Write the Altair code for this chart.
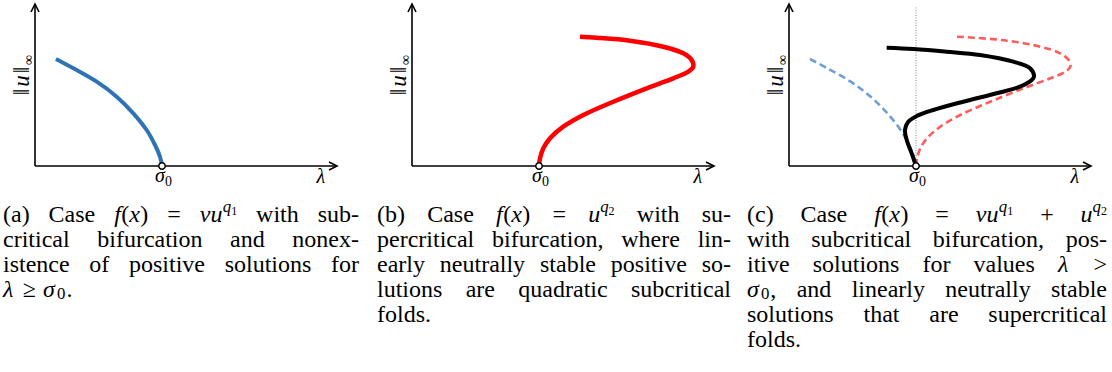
import altair as alt
import pandas as pd

# ---------------------------------------------------------------- curve data
# lambda (in units of sigma_0) and ||u||_inf along each solution branch
sub_lam = [0.165, 0.302, 0.486, 0.643, 0.774, 0.879, 0.945, 0.984, 1.0]
sub_u = [1.07, 0.977, 0.843, 0.693, 0.527, 0.36, 0.21, 0.093, 0.0]

sup_lam = [1.0, 1.008, 1.034, 1.087, 1.191, 1.349, 1.585, 1.848, 2.057,
           2.176, 2.215, 2.202, 2.136, 1.979, 1.717, 1.454, 1.323]
sup_u = [0.0, 0.077, 0.177, 0.277, 0.393, 0.51, 0.643, 0.777, 0.877,
         0.943, 0.993, 1.06, 1.127, 1.193, 1.253, 1.283, 1.293]

mix_lam = [1.0, 0.966, 0.927, 0.913, 0.939, 1.006, 1.136, 1.372, 1.635,
           1.819, 1.911, 1.929, 1.898, 1.766, 1.504, 1.242, 0.979, 0.769]
mix_u = [0.0, 0.127, 0.26, 0.36, 0.443, 0.50, 0.56, 0.643, 0.727,
         0.793, 0.86, 0.893, 0.977, 1.043, 1.11, 1.143, 1.17, 1.183]

SIGMA0 = 1.0
LAM_LABEL = 2.25

# ---------------------------------------------------------------- captions
# {..} italic math, ^qN superscript q with subscript N, _N subscript
CAPTIONS = [
    ["(a) Case {f}({x}) = {νu}^q1 with sub-",
     "critical bifurcation and nonex-",
     "istence of positive solutions for",
     "{λ} ≥ {σ}_0."],
    ["(b) Case {f}({x}) = {u}^q2 with su-",
     "percritical bifurcation, where lin-",
     "early neutrally stable positive so-",
     "lutions are quadratic subcritical",
     "folds."],
    ["(c) Case {f}({x}) = {νu}^q1 + {u}^q2",
     "with subcritical bifurcation, pos-",
     "itive solutions for values {λ} >",
     "{σ}_0, and linearly neutrally stable",
     "solutions that are supercritical",
     "folds."],
]

# ---------------------------------------------------------------- geometry
X0 = [35, 412, 789]          # pixel position of each panel's vertical axis
Y0 = 166                     # pixel position of the horizontal axes
LAM_PX = 127                 # pixels per unit of lambda
U_PX = 100                   # pixels per unit of ||u||
LAM_MAX = 2.378
U_MAX = 1.62

CAP_LEFT = [3, 377, 747]
CAP_RIGHT = [359, 731, 1107]
CAP_BASE = [222, 247, 272, 297, 322, 347]
CAP_FS = 24
SERIF = "Liberation Serif, Times New Roman, serif"


def xy(i, xf="lam", yf="u"):
    return dict(
        x=alt.X(f"{xf}:Q", axis=None,
                scale=alt.Scale(domain=[0, LAM_MAX], nice=False, zero=False,
                                range=[X0[i], X0[i] + LAM_MAX * LAM_PX])),
        y=alt.Y(f"{yf}:Q", axis=None,
                scale=alt.Scale(domain=[0, U_MAX], nice=False, zero=False,
                                range=[Y0, Y0 - U_MAX * U_PX])),
    )


def curve(i, lam, u, color, width, dash=None):
    df = pd.DataFrame({"lam": lam, "u": u, "k": range(len(lam))})
    kw = dict(interpolate="catmull-rom", color=color, strokeWidth=width,
              strokeCap="butt", strokeJoin="round")
    if dash:
        kw["strokeDash"] = dash
    return alt.Chart(df).mark_line(**kw).encode(order="k:Q", **xy(i))


def axes(i):
    seg = pd.DataFrame({"lam": [0, 0], "u": [0, 0],
                        "lam2": [LAM_MAX, 0], "u2": [0, U_MAX]})
    rule = alt.Chart(seg).mark_rule(color="black", strokeWidth=1.6).encode(
        x2="lam2:Q", y2="u2:Q", **xy(i))
    xa = alt.Chart(pd.DataFrame({"lam": [LAM_MAX], "u": [0]})).mark_point(
        shape="M-1,-0.5L0,0L-1,0.5", size=256, filled=False, stroke="black",
        strokeWidth=1.6, opacity=1).encode(**xy(i))
    ya = alt.Chart(pd.DataFrame({"lam": [0], "u": [U_MAX]})).mark_point(
        shape="M-0.5,1L0,0L0.5,1", size=256, filled=False, stroke="black",
        strokeWidth=1.6, opacity=1).encode(**xy(i))
    return [rule, xa, ya]


def origin_dot(i):
    return alt.Chart(pd.DataFrame({"lam": [SIGMA0], "u": [0]})).mark_point(
        shape="circle", size=42, filled=True, fill="white", stroke="black",
        strokeWidth=1.5, opacity=1).encode(**xy(i))


def labels(i):
    base = pd.DataFrame({"lam": [SIGMA0], "u": [0]})
    sig = alt.Chart(base).mark_text(
        text="σ", font=SERIF, fontStyle="italic", fontSize=20, align="center",
        baseline="alphabetic", dx=-2, dy=16).encode(**xy(i))
    sig0 = alt.Chart(base).mark_text(
        text="0", font=SERIF, fontSize=14, align="left",
        baseline="alphabetic", dx=3, dy=20).encode(**xy(i))
    lam = alt.Chart(pd.DataFrame({"lam": [LAM_LABEL], "u": [0]})).mark_text(
        text="λ", font=SERIF, fontStyle="italic", fontSize=20, align="center",
        baseline="alphabetic", dy=17).encode(**xy(i))
    # rotated ||u||_inf along the vertical axis
    ylab = pd.DataFrame({
        "lam": [-6 / LAM_PX, -6 / LAM_PX, -6 / LAM_PX, -2 / LAM_PX],
        "u": [(Y0 - 92) / U_PX, (Y0 - 81) / U_PX, (Y0 - 70) / U_PX, (Y0 - 60) / U_PX],
        "t": ["‖", "u", "‖", "∞"],
        "fs": [23, 23, 23, 14],
        "it": [False, True, False, False],
    })
    yr = alt.Chart(ylab).transform_filter("!datum.it").mark_text(
        font=SERIF, angle=270, align="center", baseline="alphabetic").encode(
        text="t:N", size=alt.Size("fs:Q", scale=None, legend=None), **xy(i))
    yi = alt.Chart(ylab).transform_filter("datum.it").mark_text(
        font=SERIF, fontStyle="italic", angle=270, align="center",
        baseline="alphabetic").encode(
        text="t:N", size=alt.Size("fs:Q", scale=None, legend=None), **xy(i))
    return [sig, sig0, lam, yr, yi]


# ---------------------------------------------------------------- caption layout
ROMAN = {" ": 250, "(": 333, ")": 333, ",": 250, "-": 333, ".": 250,
         "=": 564, "+": 564, ">": 564, "≥": 549, "0": 500, "1": 500, "2": 500,
         "C": 667, "a": 444, "b": 500, "c": 444, "d": 500, "e": 444, "f": 333,
         "g": 500, "h": 500, "i": 278, "j": 278, "k": 500, "l": 278, "m": 778,
         "n": 500, "o": 500, "p": 500, "q": 500, "r": 333, "s": 389, "t": 278,
         "u": 500, "v": 500, "w": 722, "x": 500, "y": 500, "z": 444}
ITALIC = {"f": 300, "x": 460, "u": 500, "q": 500, "ν": 460, "λ": 520, "σ": 580}
# style -> (size factor, raise in em, italic, trailing pad in px)
STYLE = {"r": (1.0, 0.0, False, 0), "i": (1.0, 0.0, True, 0),
         "sup": (0.7, 0.42, True, 0), "supsub": (0.5, 0.3, False, 0),
         "sub": (0.7, -0.08, False, 1)}


def parse_word(word):
    segs = []
    k = 0
    while k < len(word):
        c = word[k]
        if c == "{":
            j = word.index("}", k)
            segs.append([word[k + 1:j], "i"])
            k = j + 1
        elif c == "^":
            segs.append([word[k + 1], "sup"])
            segs.append([word[k + 2], "supsub"])
            k += 3
        elif c == "_":
            segs.append([word[k + 1], "sub"])
            k += 2
        else:
            if segs and segs[-1][1] == "r":
                segs[-1][0] += c
            else:
                segs.append([c, "r"])
            k += 1
    return segs


def seg_width(text, style):
    f, _, it, pad = STYLE[style]
    tab = ITALIC if it else ROMAN
    return sum(tab.get(ch, ROMAN.get(ch, 500)) for ch in text) * CAP_FS * f / 1000 + pad


rows = []
for p, lines in enumerate(CAPTIONS):
    width = CAP_RIGHT[p] - CAP_LEFT[p]
    for li, line in enumerate(lines):
        words = [parse_word(w) for w in line.split(" ")]
        wlen = [sum(seg_width(t, s) for t, s in w) for w in words]
        if li < len(lines) - 1 and len(words) > 1:
            gap = (width - sum(wlen)) / (len(words) - 1)
        else:
            gap = 0.3 * CAP_FS
        x = CAP_LEFT[p]
        for w, wl in zip(words, wlen):
            xx = x
            for t, s in w:
                f, r, it, _ = STYLE[s]
                rows.append({"px": xx, "py": CAP_BASE[li] - r * CAP_FS,
                             "t": t, "fs": CAP_FS * f, "it": it})
                xx += seg_width(t, s)
            x += wl + gap

cap = pd.DataFrame(rows)


def caption_layer(italic):
    kw = dict(font=SERIF, align="left", baseline="alphabetic", color="black")
    if italic:
        kw["fontStyle"] = "italic"
    return alt.Chart(cap).transform_filter(
        "datum.it" if italic else "!datum.it").mark_text(**kw).encode(
        x=alt.X("px:Q", scale=None, axis=None),
        y=alt.Y("py:Q", scale=None, axis=None),
        text="t:N",
        size=alt.Size("fs:Q", scale=None, legend=None),
    )


# ---------------------------------------------------------------- panels
BLUE = "#2f73b5"
BLUE_LIGHT = "#6d9fd5"
RED = "#ff0000"
RED_LIGHT = "#ff5c5c"

layers = []
# (a) subcritical branch
layers += axes(0)
layers.append(curve(0, sub_lam, sub_u, BLUE, 4))
layers.append(origin_dot(0))
layers += labels(0)

# (b) supercritical branch with a fold
layers += axes(1)
layers.append(curve(1, sup_lam, sup_u, RED, 4.5))
layers.append(origin_dot(1))
layers += labels(1)

# (c) combined nonlinearity, with the two pure cases dashed
layers += axes(2)
vline = pd.DataFrame({"lam": [SIGMA0], "u": [0], "u2": [1.6]})
layers.append(alt.Chart(vline).mark_rule(
    color="#888888", strokeWidth=1, strokeDash=[1, 1.5]).encode(
    y2="u2:Q", **xy(2)))
layers.append(curve(2, sub_lam, sub_u, BLUE_LIGHT, 2.6, dash=[7, 4]))
layers.append(curve(2, sup_lam, sup_u, RED_LIGHT, 2.6, dash=[7, 4]))
layers.append(curve(2, mix_lam, mix_u, "black", 4))
layers.append(origin_dot(2))
layers += labels(2)

layers.append(caption_layer(False))
layers.append(caption_layer(True))

chart = alt.layer(*layers).resolve_scale(
    x="independent", y="independent", size="independent"
).properties(
    width=1112, height=372, padding=0, autosize=alt.AutoSizeParams(type="none"),
    background="white",
).configure_view(stroke=None)

chart.save("out.html", embed_options={"renderer": "svg", "actions": False})
